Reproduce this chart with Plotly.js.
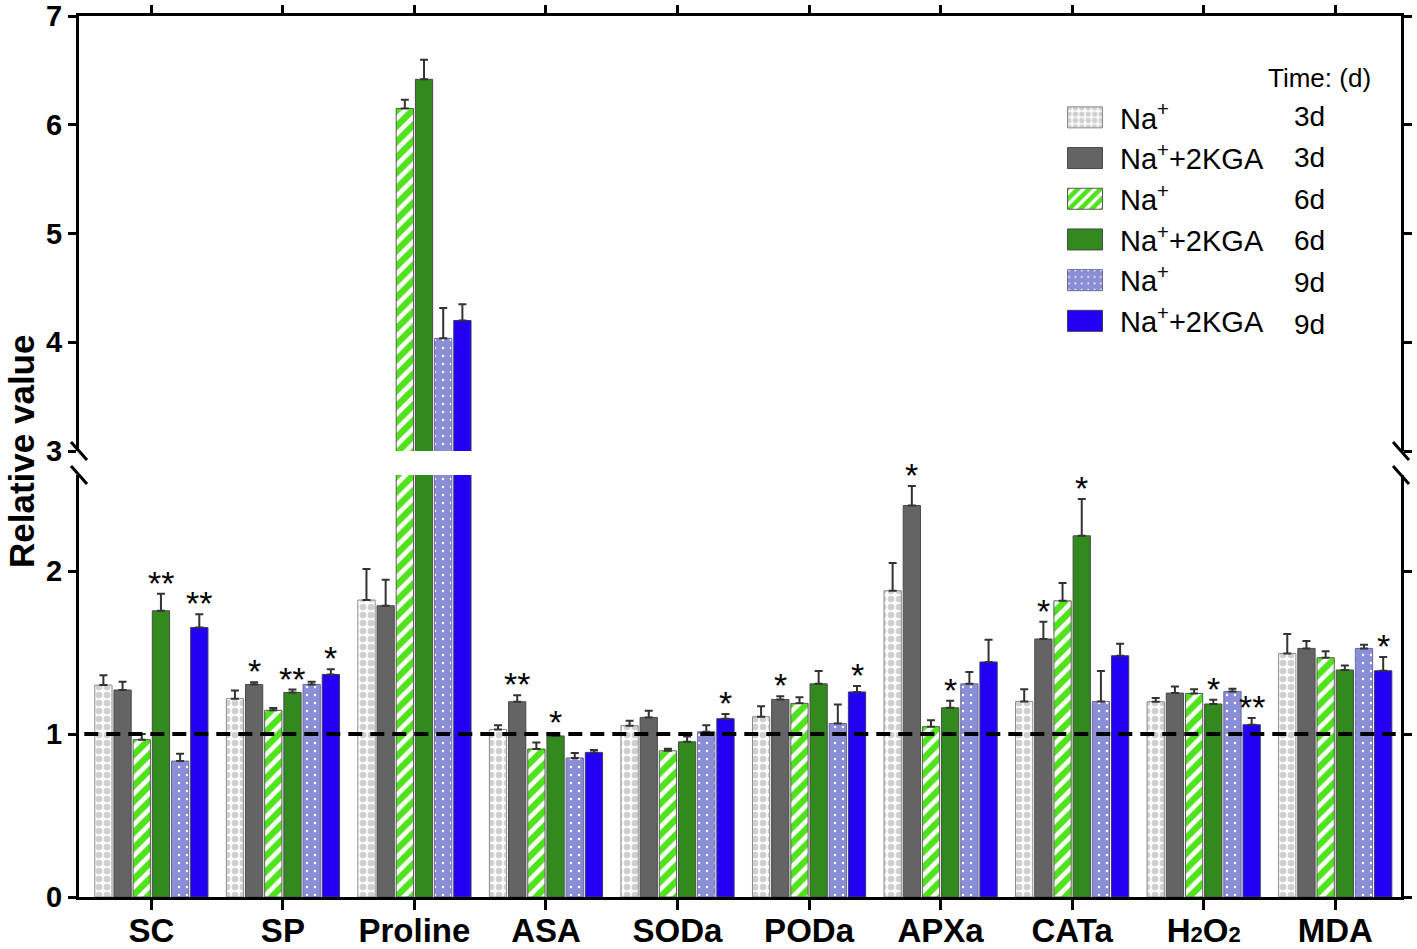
<!DOCTYPE html>
<html><head><meta charset="utf-8">
<script src="https://cdn.plot.ly/plotly-3.0.1.min.js"></script>
<style>html,body{margin:0;padding:0;background:#fff}</style>
</head><body><div id="chart" style="width:1417px;height:949px"></div>
<script>
// ---------- data ----------
const categories = ['SC','SP','Proline','ASA','SODa','PODa','APXa','CATa','H<span style="font-size:22px">2</span>O<span style="font-size:22px">2</span>','MDA'];
const seriesNames = ['Na<sup>+</sup>','Na<sup>+</sup>+2KGA','Na<sup>+</sup>','Na<sup>+</sup>+2KGA','Na<sup>+</sup>','Na<sup>+</sup>+2KGA'];
const seriesDays = ['3d','3d','6d','6d','9d','9d'];

const na3Values  = [1.30, 1.217, 1.822, 1.028, 1.051, 1.106, 1.879, 1.20, 1.198, 1.494];
const na3Err     = [0.06, 0.05, 0.19, 0.025, 0.03, 0.065, 0.17, 0.075, 0.023, 0.12];
const na3Sig     = ['', '', '', '', '', '', '', '', '', ''];

const kga3Values = [1.27, 1.304, 1.787, 1.198, 1.102, 1.212, 2.402, 1.583, 1.251, 1.525];
const kga3Err    = [0.05, 0.014, 0.16, 0.04, 0.04, 0.02, 0.12, 0.106, 0.04, 0.045];
const kga3Sig    = ['', '*', '', '**', '', '*', '*', '*', '', ''];

const na6Values  = [0.965, 1.145, 6.15, 0.908, 0.897, 1.188, 1.045, 1.817, 1.249, 1.468];
const na6Err     = [0.035, 0.014, 0.08, 0.04, 0.012, 0.037, 0.04, 0.11, 0.025, 0.04];
const na6Sig     = ['', '', '', '', '', '', '', '', '', ''];

const kga6Values = [1.756, 1.255, 6.418, 0.988, 0.952, 1.308, 1.161, 2.216, 1.184, 1.393];
const kga6Err    = [0.105, 0.018, 0.18, 0.018, 0.033, 0.078, 0.043, 0.225, 0.026, 0.028];
const kga6Sig    = ['**', '**', '', '*', '', '', '*', '*', '*', ''];

const na9Values  = [0.834, 1.304, 4.036, 0.853, 1.014, 1.065, 1.308, 1.20, 1.261, 1.525];
const na9Err     = [0.045, 0.017, 0.28, 0.03, 0.04, 0.116, 0.072, 0.186, 0.017, 0.022];
const na9Sig     = ['', '', '', '', '', '', '', '', '', ''];

const kga9Values = [1.654, 1.365, 4.20, 0.887, 1.094, 1.258, 1.442, 1.48, 1.057, 1.388];
const kga9Err    = [0.08, 0.033, 0.15, 0.015, 0.028, 0.036, 0.137, 0.073, 0.041, 0.084];
const kga9Sig    = ['**', '*', '', '', '*', '*', '', '', '**', '*'];

const yTickLower = [0, 1, 2];
const yTickUpper = [3, 4, 5, 6, 7];
const referenceLevel = 1;

// ---------- styles ----------
const allValues = [na3Values, kga3Values, na6Values, kga6Values, na9Values, kga9Values];
const allErr = [na3Err, kga3Err, na6Err, kga6Err, na9Err, kga9Err];
const allSig = [na3Sig, kga3Sig, na6Sig, kga6Sig, na9Sig, kga9Sig];
const markerStyles = [
  {color:'#ffffff', line:{color:'#8a8a8a', width:1}, pattern:{shape:'.', bgcolor:'#ffffff', fgcolor:'#d0d0d0', size:8, solidity:0.55, fillmode:'replace'}},
  {color:'#646464', line:{color:'#4a4a4a', width:1}},
  {color:'#50e21c', line:{color:'#5a5a5a', width:1}, pattern:{shape:'/', bgcolor:'#50e21c', fgcolor:'#ffffff', size:11, solidity:0.42, fillmode:'replace'}},
  {color:'#32891e', line:{color:'#4a4a4a', width:1}},
  {color:'#8a8ed6', line:{color:'#6a6a9a', width:1}, pattern:{shape:'.', bgcolor:'#8a8ed6', fgcolor:'#ffffff', size:8, solidity:0.08, fillmode:'replace'}},
  {color:'#2200f4', line:{color:'#3a3a6a', width:1}}
];

const BARGAP = 0.125, BARGROUPGAP = 0.1;
const data = [];
allValues.forEach((vals, i) => {
  const base = {
    type:'bar', x:categories, y:vals, name:seriesNames[i],
    marker: markerStyles[i],
    error_y:{type:'data', symmetric:false, array:allErr[i], arrayminus:vals.map(()=>0),
             color:'#333333', thickness:2, width:4},
    hoverinfo:'skip'
  };
  data.push(Object.assign({}, base, {xaxis:'x', yaxis:'y', showlegend:true, legendrank:i}));
  data.push(Object.assign({}, base, {xaxis:'x2', yaxis:'y2', showlegend:false}));
});

const annotations = [];
const nS = allValues.length;
const slot = (1 - BARGAP) / nS;
allSig.forEach((sigs, i) => {
  sigs.forEach((s, j) => {
    if (!s) return;
    annotations.push({
      x: j - (1 - BARGAP)/2 + (i + 0.5)*slot, xref:'x',
      y: allValues[i][j] + allErr[i][j], yref:'y',
      text: s, showarrow:false, yanchor:'bottom', yshift:-10,
      font:{family:'Liberation Sans, Arial, sans-serif', size:34, color:'#000'}
    });
  });
});
// legend right-hand column (days) and header
const rowTop = 116, rowStep = 41.6;
seriesDays.forEach((d, i) => {
  annotations.push({
    xref:'paper', yref:'paper', x:(1292-79)/1322, xanchor:'left',
    y:(897-(rowTop + i*rowStep))/881, yanchor:'middle',
    text:d, showarrow:false,
    font:{family:'Liberation Sans, Arial, sans-serif', size:28, color:'#000'}
  });
});
annotations.push({
  xref:'paper', yref:'paper', x:(1373-79)/1322, xanchor:'right',
  y:(897-78)/881, yanchor:'middle', text:'Time: (d)', showarrow:false,
  font:{family:'Liberation Sans, Arial, sans-serif', size:26, color:'#000'}
});
// y-axis title
annotations.push({
  xref:'paper', yref:'paper', x:-(79-21)/1322, xanchor:'center',
  y:(897-452)/881, yanchor:'middle', textangle:-90, text:'Relative value', showarrow:false,
  font:{family:'Liberation Sans, Arial, sans-serif', size:35, color:'#000', weight:700}
});

const lowerTop = 2.589;
const lowerDomainTop = 422/881;
const upperDomainBottom = 446/881;

function breakMark(xp, yp) {
  return {type:'line', xref:'paper', yref:'paper', xsizemode:'pixel', ysizemode:'pixel',
    xanchor:xp, yanchor:yp, x0:-8, x1:8, y0:9, y1:-9,
    line:{color:'#000', width:3}};
}
const shapes = [
  {type:'line', xref:'paper', x0:0.004, x1:0.996, yref:'y', y0:referenceLevel, y1:referenceLevel,
   line:{color:'#000', width:4, dash:'14px,8px'}, layer:'above'},
  breakMark(0, upperDomainBottom), breakMark(0, lowerDomainTop),
  breakMark(1, upperDomainBottom), breakMark(1, lowerDomainTop)
];

const tickFontY = {family:'Liberation Sans, Arial, sans-serif', size:29, color:'#000', weight:700};
const tickFontX = {family:"'Liberation Sans Narrow', 'Liberation Sans', Arial, sans-serif", size:33, color:'#000', weight:700};

const layout = {
  width:1417, height:949,
  margin:{l:79, r:16, t:16, b:52},
  paper_bgcolor:'#fff', plot_bgcolor:'rgba(0,0,0,0)',
  barmode:'group', bargap:BARGAP, bargroupgap:BARGROUPGAP,
  showlegend:true,
  legend:{x:(1050-79)/1322, xanchor:'left', y:(897-92)/881, yanchor:'top',
          bgcolor:'rgba(0,0,0,0)', itemwidth:60, traceorder:'normal',
          font:{family:'Liberation Sans, Arial, sans-serif', size:29, color:'#000'}},
  xaxis:{type:'category', range:[-0.55, 9.5], anchor:'y', showline:true, linecolor:'#000', linewidth:3,
         ticks:'outside', ticklen:10, tickwidth:3, tickcolor:'#000', tickfont:tickFontX, ticklabelstandoff:-8,
         showgrid:false, zeroline:false, automargin:false, fixedrange:true},
  xaxis2:{type:'category', matches:'x', range:[-0.55, 9.5], anchor:'y2', side:'top', showline:true,
          linecolor:'#000', linewidth:3, ticks:'outside', ticklen:8, tickwidth:3, tickcolor:'#000',
          showticklabels:false, showgrid:false, zeroline:false, automargin:false},
  yaxis:{domain:[0, lowerDomainTop], range:[0, lowerTop], tickvals:yTickLower, ticktext:yTickLower.map(String),
         showline:true, linecolor:'#000', linewidth:3, mirror:'ticks',
         ticks:'outside', ticklen:8, tickwidth:3, tickcolor:'#000', tickfont:tickFontY,
         showgrid:false, zeroline:false, automargin:false, anchor:'x'},
  yaxis2:{domain:[upperDomainBottom, 1], range:[3, 7], tickvals:yTickUpper, ticktext:yTickUpper.map(String),
          showline:true, linecolor:'#000', linewidth:3, mirror:'ticks',
          ticks:'outside', ticklen:8, tickwidth:3, tickcolor:'#000', tickfont:tickFontY,
          showgrid:false, zeroline:false, automargin:false, anchor:'x2'},
  shapes:shapes,
  annotations:annotations
};

Plotly.newPlot('chart', data, layout, {staticPlot:true, displayModeBar:false}).then(gd => {
  gd.querySelectorAll('.legend .legendpoints path').forEach(p => p.setAttribute('d', 'M17.5,10.5H-17.5V-10.5H17.5Z'));
});
</script>
</body></html>
